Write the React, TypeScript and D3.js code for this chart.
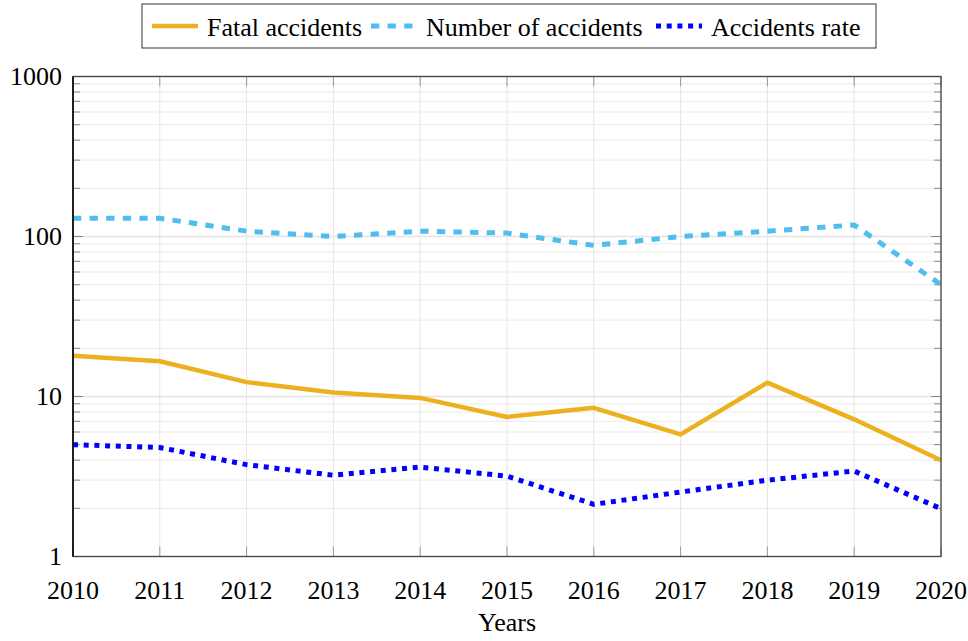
import React from "react";
import * as d3 from "d3";

const years = [2010, 2011, 2012, 2013, 2014, 2015, 2016, 2017, 2018, 2019, 2020];
const fatalAccidents = [18, 16.6, 12.3, 10.6, 9.8, 7.45, 8.5, 5.8, 12.2, 7.2, 4.0];
const numberOfAccidents = [130, 130, 108, 100, 108, 105, 88, 100, 108, 118, 50];
const accidentsRate = [5.0, 4.8, 3.75, 3.22, 3.62, 3.18, 2.12, 2.53, 3.0, 3.42, 1.99];
const yTicks = [1, 10, 100, 1000];
const seriesNames = ["Fatal accidents", "Number of accidents", "Accidents rate"];

const W = 968, H = 641;
const M = { left: 73, right: 941, top: 76.5, bottom: 556.5 };
const FONT = "'Liberation Serif', 'Times New Roman', serif";
const FS = 26;

export default function App() {
  const x = d3.scaleLinear().domain([2010, 2020]).range([M.left, M.right]);
  const y = d3.scaleLog().domain([1, 1000]).range([M.bottom, M.top]);

  const minor: number[] = [];
  for (const d of [1, 10, 100]) for (let k = 2; k <= 9; k++) minor.push(d * k);

  const series = [
    { name: seriesNames[0], values: fatalAccidents, color: "#EDB120", dash: "none", width: 4.5 },
    { name: seriesNames[1], values: numberOfAccidents, color: "#4DBEEE", dash: "8.3 8.3", width: 5 },
    { name: seriesNames[2], values: accidentsRate, color: "#0000FF", dash: "5 5.7", width: 5 },
  ];

  const line = d3.line<[number, number]>().x((d) => x(d[0])).y((d) => y(d[1]));

  const legendX = [152, 371, 656];

  return (
    <svg width={W} height={H} style={{ position: "absolute", left: 0, top: 0, background: "#fff" }} fontFamily={FONT}>
      <rect x={0} y={0} width={W} height={H} fill="#fff" />
      {minor.map((v) => (
        <line key={"mg" + v} x1={M.left} x2={M.right} y1={y(v)} y2={y(v)} stroke="#ebebeb" strokeWidth={1} />
      ))}
      {yTicks.map((v) => (
        <line key={"Mg" + v} x1={M.left} x2={M.right} y1={y(v)} y2={y(v)} stroke="#e3e3e3" strokeWidth={1.3} />
      ))}
      {years.map((yr) => (
        <line key={"vg" + yr} x1={x(yr)} x2={x(yr)} y1={M.top} y2={M.bottom} stroke="#e6e6e6" strokeWidth={1} />
      ))}
      {minor.map((v) => (
        <g key={"mt" + v}>
          <line x1={M.left} x2={M.left + 7} y1={y(v)} y2={y(v)} stroke="#888" strokeWidth={1} />
          <line x1={M.right - 7} x2={M.right} y1={y(v)} y2={y(v)} stroke="#888" strokeWidth={1} />
        </g>
      ))}
      {yTicks.map((v) => (
        <g key={"Mt" + v}>
          <line x1={M.left} x2={M.left + 10} y1={y(v)} y2={y(v)} stroke="#888" strokeWidth={1} />
          <line x1={M.right - 10} x2={M.right} y1={y(v)} y2={y(v)} stroke="#888" strokeWidth={1} />
        </g>
      ))}
      {years.map((yr) => (
        <g key={"xt" + yr}>
          <line x1={x(yr)} x2={x(yr)} y1={M.bottom} y2={M.bottom - 10} stroke="#999" strokeWidth={1} />
          <line x1={x(yr)} x2={x(yr)} y1={M.top} y2={M.top + 10} stroke="#999" strokeWidth={1} />
        </g>
      ))}
      {series.map((s) => (
        <path
          key={s.name}
          d={line(years.map((yr, i) => [yr, s.values[i]] as [number, number])) || ""}
          fill="none"
          stroke={s.color}
          strokeWidth={s.width}
          strokeDasharray={s.dash}
          strokeLinejoin="round"
        />
      ))}
      <rect x={M.left} y={M.top} width={M.right - M.left} height={M.bottom - M.top} fill="none" stroke="#444" strokeWidth={1.3} />
      <line x1={M.left} x2={M.left} y1={M.top} y2={M.bottom} stroke="#000" strokeWidth={1.5} />
      {yTicks.map((v) => (
        <text key={"yl" + v} x={62} y={y(v)} textAnchor="end" dominantBaseline="central" fontSize={FS} fill="#000">
          {d3.format("d")(v)}
        </text>
      ))}
      {years.map((yr) => (
        <text key={"xl" + yr} x={x(yr)} y={599} textAnchor="middle" fontSize={FS} fill="#000">
          {yr}
        </text>
      ))}
      <text x={(M.left + M.right) / 2} y={631} textAnchor="middle" fontSize={FS} fill="#000">
        Years
      </text>
      <rect x={142} y={4} width={734} height={44} fill="#fff" stroke="#333" strokeWidth={1} />
      {series.map((s, i) => (
        <g key={"lg" + s.name}>
          <line x1={legendX[i]} x2={legendX[i] + 46} y1={26} y2={26} stroke={s.color} strokeWidth={s.width} strokeDasharray={s.dash} />
          <text x={legendX[i] + 55} y={27} dominantBaseline="central" fontSize={FS} fill="#000">
            {s.name}
          </text>
        </g>
      ))}
    </svg>
  );
}
